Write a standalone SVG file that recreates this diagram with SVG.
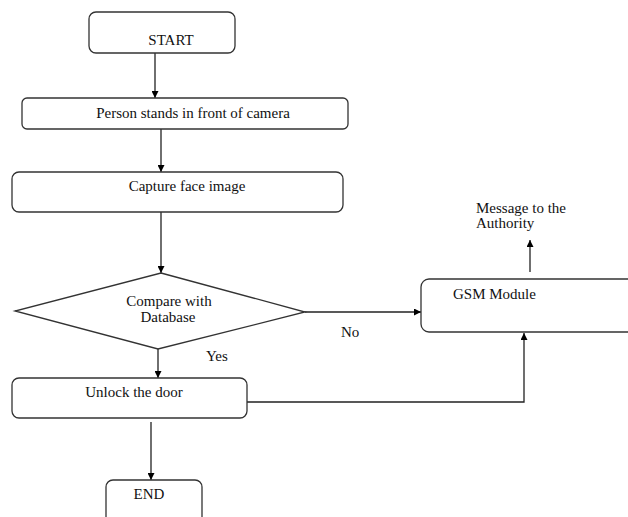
<svg xmlns="http://www.w3.org/2000/svg" width="628" height="517" viewBox="0 0 628 517">
<defs>
<marker id="ah" viewBox="0 0 10 10" refX="10" refY="5" markerWidth="7" markerHeight="7" markerUnits="userSpaceOnUse" orient="auto">
<path d="M0,0 L10,5 L0,10 z" fill="#000"/>
</marker>
</defs>
<style>
.box{fill:#fff;stroke:#333;stroke-width:1.3}
.t{font-family:"Liberation Serif",serif;font-size:15px;fill:#111}
.ln{fill:none;stroke:#222;stroke-width:1.3}
</style>
<rect width="628" height="517" fill="#fff"/>
<g id="connectors">
<line class="ln" x1="155" y1="53" x2="155" y2="98" marker-end="url(#ah)"/>
<line class="ln" x1="161" y1="129" x2="161" y2="172" marker-end="url(#ah)"/>
<line class="ln" x1="161" y1="212" x2="161" y2="273" marker-end="url(#ah)"/>
<line class="ln" x1="305" y1="312" x2="421" y2="312" marker-end="url(#ah)"/>
<line class="ln" x1="158" y1="349" x2="158" y2="378" marker-end="url(#ah)"/>
<polyline class="ln" points="247,402 524,402 524,333" marker-end="url(#ah)"/>
<line class="ln" x1="530" y1="272" x2="530" y2="240" marker-end="url(#ah)"/>
<line class="ln" x1="151" y1="422" x2="151" y2="480" marker-end="url(#ah)"/>
<text class="t" x="341" y="337">No</text>
<text class="t" x="206" y="361">Yes</text>
</g>
<g id="start">
<rect class="box" x="89" y="12" width="146" height="41" rx="7"/>
<text class="t" x="171" y="45" text-anchor="middle">START</text>
</g>
<g id="person">
<rect class="box" x="22" y="98" width="326" height="31" rx="5"/>
<text class="t" x="193" y="118" text-anchor="middle">Person stands in front of camera</text>
</g>
<g id="capture">
<rect class="box" x="12" y="172" width="331" height="40" rx="7"/>
<text class="t" x="187" y="191" text-anchor="middle">Capture face image</text>
</g>
<g id="compare">
<polygon class="box" points="161,273 305,312 158,349 15,311"/>
<text class="t" x="169" y="306" text-anchor="middle">Compare with</text>
<text class="t" x="168" y="322" text-anchor="middle">Database</text>
</g>
<g id="gsm">
<rect class="box" x="421" y="279" width="220" height="53" rx="8"/>
<text class="t" x="453" y="299">GSM Module</text>
</g>
<g id="message">
<text class="t" x="476" y="213">Message to the</text>
<text class="t" x="476" y="228">Authority</text>
</g>
<g id="unlock">
<rect class="box" x="12" y="378" width="235" height="40" rx="7"/>
<text class="t" x="134" y="397" text-anchor="middle">Unlock the door</text>
</g>
<g id="end">
<rect class="box" x="106" y="480" width="96" height="45" rx="7"/>
<text class="t" x="149" y="499" text-anchor="middle">END</text>
</g>
</svg>
